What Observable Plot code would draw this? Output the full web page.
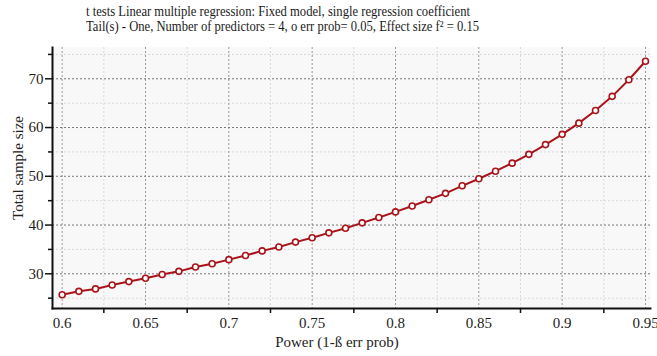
<!DOCTYPE html>
<html>
<head>
<meta charset="utf-8">
<script src="https://cdn.jsdelivr.net/npm/d3@7"></script>
<script src="https://cdn.jsdelivr.net/npm/@observablehq/plot@0.6"></script>
<style>
  html, body { margin: 0; padding: 0; background: #fff; }
  #wrap { position: relative; width: 657px; height: 356px; overflow: hidden; }
  .title { position: absolute; left: 86px; white-space: nowrap; font-family: "Liberation Serif", "DejaVu Serif", serif; font-size: 15px; color: #1a1a1a; transform-origin: 0 50%; line-height: 1; z-index: 2; }
  .axlabel { position: absolute; white-space: nowrap; font-family: "Liberation Serif", "DejaVu Serif", serif; font-size: 15px; color: #222; line-height: 1; z-index: 2; }
</style>
</head>
<body>
<div id="wrap">
  <div class="title" id="t1" data-w="384" style="top:4px">t tests Linear multiple regression: Fixed model, single regression coefficient</div>
  <div class="title" id="t2" data-w="393" style="top:19px">Tail(s) - One, Number of predictors = 4, o err prob= 0.05, Effect size f² = 0.15</div>
  <div class="axlabel" id="xl" style="left:337px; top:342px; transform: translate(-50%,-50%);"></div>
  <div class="axlabel" id="yl" style="left:18px; top:167.5px; transform: translate(-50%,-50%) rotate(-90deg);"></div>
</div>
<script>
const power = [0.60,0.61,0.62,0.63,0.64,0.65,0.66,0.67,0.68,0.69,0.70,0.71,0.72,0.73,0.74,0.75,0.76,0.77,0.78,0.79,0.80,0.81,0.82,0.83,0.84,0.85,0.86,0.87,0.88,0.89,0.90,0.91,0.92,0.93,0.94,0.95];
const sampleSize = [25.7,26.4,26.9,27.7,28.4,29.1,29.85,30.5,31.4,32.05,32.9,33.75,34.7,35.5,36.5,37.4,38.4,39.35,40.45,41.55,42.7,43.9,45.2,46.5,48.05,49.5,51.05,52.7,54.5,56.5,58.6,60.9,63.5,66.4,69.8,73.6];
const xMajor = [0.6,0.65,0.7,0.75,0.8,0.85,0.9,0.95];
const xMinor = [0.625,0.675,0.725,0.775,0.825,0.875,0.925];
const yMajor = [30,40,50,60,70];
const yMinor = [25,35,45,55,65,75];
const xLabel = "Power (1-ß err prob)";
const yLabel = "Total sample size";

document.getElementById("xl").textContent = xLabel;
document.getElementById("yl").textContent = yLabel;

const data = power.map((p, i) => ({power: p, n: sampleSize[i]}));
const font = "Liberation Serif, DejaVu Serif, serif";
const red = "#a8141a";

const chart = Plot.plot({
  width: 657,
  height: 356,
  marginLeft: 52,
  marginRight: 7,
  marginTop: 47,
  marginBottom: 48,
  style: {fontFamily: font, fontSize: "15px", color: "#222", background: "transparent"},
  x: {domain: [0.5942, 0.953]},
  y: {domain: [22.88, 76.42]},
  marks: [
    Plot.frame({fill: "#f8f8f8", stroke: null}),
    Plot.gridX(xMinor, {stroke: "#d0d0d0", strokeOpacity: 1, strokeDasharray: "2,2", strokeWidth: 0.8}),
    Plot.gridY(yMinor, {stroke: "#d0d0d0", strokeOpacity: 1, strokeDasharray: "2,2", strokeWidth: 0.8}),
    Plot.gridX(xMajor, {stroke: "#999", strokeOpacity: 1, strokeDasharray: "2,2", strokeWidth: 1}),
    Plot.gridY(yMajor, {stroke: "#777", strokeOpacity: 1, strokeDasharray: "2,2", strokeWidth: 1}),
    Plot.axisX(xMajor, {tickSize: 0, tickPadding: 9, fontSize: 15, label: null, tickFormat: d => String(d)}),
    Plot.axisX(xMinor, {tickSize: 5, tickFormat: () => "", label: null, strokeWidth: 1.5, stroke: "#111"}),
    Plot.axisY(yMajor, {tickSize: 7, tickPadding: 2, fontSize: 15, label: null, strokeWidth: 1.5, stroke: "#111"}),
    Plot.axisY(yMinor, {tickSize: 4, tickFormat: () => "", label: null, strokeWidth: 1.5, stroke: "#111"}),
    Plot.frame({anchor: "left", stroke: "#111", strokeWidth: 2}),
    Plot.frame({anchor: "bottom", stroke: "#111", strokeWidth: 2}),
    Plot.line(data, {x: "power", y: "n", stroke: red, strokeWidth: 2}),
    Plot.dot(data, {x: "power", y: "n", r: 3, fill: "#fff", stroke: red, strokeWidth: 1.6})
  ]
});
chart.style.position = "absolute";
chart.style.left = "0";
chart.style.top = "0";
chart.style.zIndex = "1";
document.getElementById("wrap").appendChild(chart);
for (const el of document.querySelectorAll(".title")) {
  const w = el.getBoundingClientRect().width;
  el.style.transform = `scaleX(${(+el.dataset.w / w).toFixed(4)})`;
}
</script>
</body>
</html>
